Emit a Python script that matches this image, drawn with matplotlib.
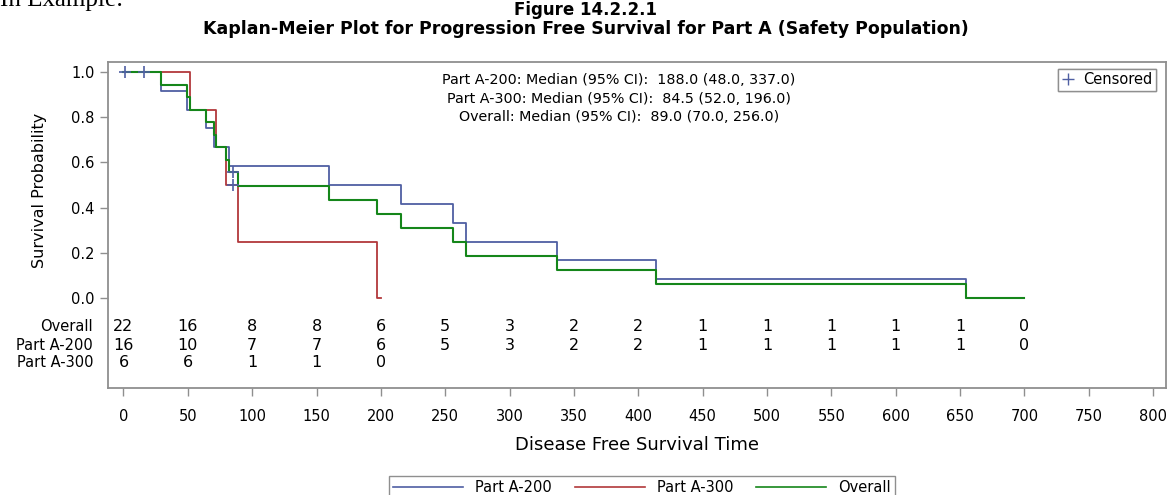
import numpy as np
import matplotlib
matplotlib.use("Agg")
import matplotlib.pyplot as plt
from matplotlib.lines import Line2D

plt.rcParams['font.family'] = ['DejaVu Sans']

# --- step curves (time, survival) ---
t_200 = [0, 29, 49, 64, 70, 82, 160, 216, 256, 266, 337, 414, 655, 700]
s_200 = [1.0, 0.917, 0.833, 0.750, 0.667, 0.583, 0.500, 0.417, 0.333, 0.250, 0.167, 0.083, 0.0, 0.0]

t_300 = [0, 52, 72, 80, 89, 197, 200]
s_300 = [1.0, 0.833, 0.667, 0.500, 0.250, 0.0, 0.0]

t_all = [0, 29, 49, 52, 64, 70, 72, 80, 82, 89, 160, 197, 216, 256, 266, 337, 414, 655, 700]
s_all = [1.0, 0.944, 0.889, 0.833, 0.778, 0.722, 0.667, 0.611, 0.556, 0.494, 0.432,
         0.370, 0.309, 0.247, 0.185, 0.123, 0.062, 0.0, 0.0]

# censored marks
cens_t = [1, 16, 85, 85]
cens_s = [1.0, 1.0, 0.556, 0.500]

# numbers at risk
risk_times = [0, 50, 100, 150, 200, 250, 300, 350, 400, 450, 500, 550, 600, 650, 700]
risk_all = [22, 16, 8, 8, 6, 5, 3, 2, 2, 1, 1, 1, 1, 1, 0]
risk_200 = [16, 10, 7, 7, 6, 5, 3, 2, 2, 1, 1, 1, 1, 1, 0]
risk_300 = [6, 6, 1, 1, 0]

median_lines = ["Part A-200: Median (95% CI):  188.0 (48.0, 337.0)",
                "Part A-300: Median (95% CI):  84.5 (52.0, 196.0)",
                "Overall: Median (95% CI):  89.0 (70.0, 256.0)"]

c_200 = '#4f5fa3'
c_300 = '#b2383b'
c_all = '#15861a'
grey = '#8f8f8f'

fig = plt.figure(figsize=(11.71, 4.95), dpi=100)
ax = fig.add_axes([108/1171, 1 - 388/495, (1166-108)/1171, (388-62)/495])

ax.plot(t_200, s_200, drawstyle='steps-post', color=c_200, lw=1.3)
ax.plot(t_300, s_300, drawstyle='steps-post', color=c_300, lw=1.3)
ax.plot(t_all, s_all, drawstyle='steps-post', color=c_all, lw=1.5)
ax.plot(cens_t, cens_s, ls='none', marker='+', ms=8, mew=1.2, color=c_200)

ax.set_xlim(-12, 810)
ax.set_ylim(-0.398, 1.044)
ax.set_xticks(np.arange(0, 801, 50))
ax.set_yticks(np.arange(0, 1.01, 0.2))
ax.set_yticklabels([f"{v:.1f}" for v in np.arange(0, 1.01, 0.2)])
ax.tick_params(axis='both', direction='out', length=6, width=1, color=grey,
               labelsize=10.5, labelcolor='black')
ax.tick_params(axis='x', pad=9)
for sp in ax.spines.values():
    sp.set_color(grey)
    sp.set_linewidth(1.3)

ax.set_xlabel("Disease Free Survival Time", fontsize=13, labelpad=9)
fig.text(40/1171, 1 - 190/495, "Survival Probability", rotation=90,
         ha='center', va='center', fontsize=11.5)

# at-risk table inside the frame
rows = [("Overall", risk_all, -0.128), ("Part A-200", risk_200, -0.208),
        ("Part A-300", risk_300, -0.285)]
for label, vals, yy in rows:
    ax.text(-0.014, yy, label, transform=ax.get_yaxis_transform(),
            ha='right', va='center', fontsize=10.5)
    for tt, v in zip(risk_times, vals):
        ax.text(tt, yy, str(v), ha='center', va='center', fontsize=11.5)

# medians
for i, line in enumerate(median_lines):
    ax.text(385, 0.965 - i * 0.083, line, ha='center', va='center', fontsize=10.3)

# censored legend
leg1 = ax.legend([Line2D([], [], ls='none', marker='+', ms=8, mew=1, color=c_200)],
                 ["Censored"], loc='upper right', bbox_to_anchor=(0.9905, 0.979),
                 borderaxespad=0, fontsize=10.5, fancybox=False, edgecolor=grey,
                 framealpha=1, handlelength=1, handletextpad=0.5, borderpad=0.25)
leg1.get_frame().set_linewidth(1)
ax.add_artist(leg1)

# group legend at bottom
handles = [Line2D([], [], color=c_200, lw=1.2), Line2D([], [], color=c_300, lw=1.2),
           Line2D([], [], color=c_all, lw=1.2)]
leg2 = fig.legend(handles, ["Part A-200", "Part A-300", "Overall"], ncol=3,
                  loc='upper center', bbox_to_anchor=(642/1171, 1 - 476/495),
                  borderaxespad=0, fontsize=10.5, fancybox=False, edgecolor=grey,
                  framealpha=1, handlelength=4.8, handletextpad=0.8,
                  columnspacing=1.6, borderpad=0.3)
leg2.get_frame().set_linewidth(1)

fig.text(0.5, 1 - 10/495, "Figure 14.2.2.1", ha='center', va='center',
         fontsize=12, fontweight='bold')
fig.text(0.5, 1 - 29/495,
         "Kaplan-Meier Plot for Progression Free Survival for Part A (Safety Population)",
         ha='center', va='center', fontsize=12.5, fontweight='bold')
fig.text(0.0, 1 - 6/495, "In Example:", ha='left', va='baseline', fontsize=18,
         family='Liberation Serif')

fig.savefig("out.png", dpi=100)
